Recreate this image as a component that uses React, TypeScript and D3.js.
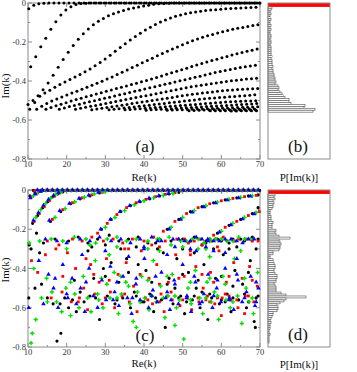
import React, { useEffect, useRef } from 'react';
import * as d3 from 'd3';

const W = 357;
const H = 372;

// Re(k) grid: spacing between neighbouring resonances of one family
const reGrid = [10.0, 11.3, 12.6, 13.9, 15.2, 16.5, 17.8, 19.1, 20.4, 21.7, 23.0, 24.3, 25.6, 26.9, 28.2, 29.5, 30.8, 32.1, 33.4, 34.7, 36.0, 37.3, 38.6, 39.9, 41.2, 42.5, 43.8, 45.1, 46.4, 47.7, 49.0, 50.3, 51.6, 52.9, 54.2, 55.5, 56.8, 58.1, 59.4, 60.7, 62.0, 63.3, 64.6, 65.9, 67.2, 68.5, 69.8];

// panel (a): each family starts at reGrid[famFrom] and is offset by famShift
const famFrom = [0, 0, 0, 0, 1, 3, 6, 9, 12, 16, 19, 23, 27, 32, 36, 40];
const famShift = [0.2, 0.7, 0.0, 0.45, 0.95, 0.75, 0.3, 0.6, 0.9, 0.15, 0.4, 0.65, 0.9, 0.05, 0.35, 0.6];
const famIm = [
  [-0.03, -0.012, -0.004, -0.001, 0, 0, 0, 0, 0, 0, 0, 0, 0, 0, 0, 0, 0, 0, 0, 0, 0, 0, 0, 0, 0, 0, 0, 0, 0, 0, 0, 0, 0, 0, 0, 0, 0, 0, 0, 0, 0, 0, 0, 0, 0, 0, 0],
  [-0.327, -0.275, -0.224, -0.181, -0.135, -0.096, -0.062, -0.036, -0.019, -0.008, -0.003, -0.001, 0, 0, 0, 0, 0, 0, 0, 0, 0, 0, 0, 0, 0, 0, 0, 0, 0, 0, 0, 0, 0, 0, 0, 0, 0, 0, 0, 0, 0, 0, 0, 0, 0, 0],
  [-0.52, -0.5, -0.475, -0.445, -0.41, -0.37, -0.33, -0.29, -0.252, -0.218, -0.186, -0.158, -0.133, -0.112, -0.094, -0.079, -0.066, -0.055, -0.046, -0.038, -0.031, -0.025, -0.02, -0.015, -0.011, -0.007, -0.004, -0.002, -0.001, 0, 0, 0, 0, 0, 0, 0, 0, 0, 0, 0, 0, 0, 0, 0, 0, 0, 0],
  [-0.545, -0.51, -0.478, -0.462, -0.447, -0.432, -0.418, -0.405, -0.392, -0.38, -0.367, -0.353, -0.338, -0.322, -0.305, -0.287, -0.268, -0.248, -0.228, -0.209, -0.19, -0.172, -0.155, -0.139, -0.124, -0.11, -0.098, -0.087, -0.077, -0.068, -0.061, -0.055, -0.05, -0.046, -0.042, -0.039, -0.036, -0.034, -0.032, -0.03, -0.028, -0.027, -0.025, -0.024, -0.023, -0.022],
  [-0.545, -0.53, -0.515, -0.503, -0.492, -0.482, -0.472, -0.462, -0.452, -0.442, -0.432, -0.422, -0.412, -0.401, -0.39, -0.379, -0.367, -0.355, -0.343, -0.331, -0.319, -0.307, -0.295, -0.283, -0.271, -0.259, -0.247, -0.236, -0.225, -0.214, -0.204, -0.194, -0.185, -0.176, -0.168, -0.161, -0.154, -0.147, -0.141, -0.135, -0.13, -0.125, -0.12, -0.115, -0.111],
  [-0.545, -0.536, -0.527, -0.519, -0.511, -0.503, -0.495, -0.488, -0.481, -0.474, -0.467, -0.46, -0.453, -0.446, -0.439, -0.432, -0.425, -0.418, -0.411, -0.404, -0.397, -0.39, -0.382, -0.374, -0.366, -0.358, -0.35, -0.342, -0.334, -0.326, -0.318, -0.31, -0.302, -0.295, -0.288, -0.281, -0.274, -0.267, -0.26, -0.254, -0.248, -0.242, -0.236],
  [-0.545, -0.538, -0.531, -0.525, -0.519, -0.513, -0.507, -0.501, -0.495, -0.489, -0.483, -0.477, -0.471, -0.465, -0.459, -0.453, -0.447, -0.441, -0.435, -0.429, -0.423, -0.417, -0.411, -0.405, -0.399, -0.393, -0.387, -0.381, -0.375, -0.369, -0.363, -0.357, -0.351, -0.346, -0.341, -0.336, -0.331, -0.327, -0.323, -0.319],
  [-0.545, -0.54, -0.535, -0.53, -0.525, -0.52, -0.515, -0.51, -0.505, -0.5, -0.495, -0.49, -0.485, -0.48, -0.475, -0.47, -0.465, -0.46, -0.455, -0.45, -0.445, -0.44, -0.435, -0.43, -0.426, -0.422, -0.418, -0.414, -0.41, -0.406, -0.402, -0.399, -0.396, -0.393, -0.39, -0.388, -0.386],
  [-0.548, -0.544, -0.54, -0.536, -0.532, -0.528, -0.524, -0.52, -0.516, -0.512, -0.508, -0.504, -0.5, -0.496, -0.492, -0.488, -0.484, -0.48, -0.476, -0.472, -0.468, -0.465, -0.462, -0.459, -0.456, -0.453, -0.45, -0.448, -0.446, -0.444, -0.442, -0.441, -0.44, -0.439],
  [-0.548, -0.545, -0.542, -0.539, -0.536, -0.533, -0.53, -0.527, -0.524, -0.521, -0.518, -0.515, -0.512, -0.509, -0.506, -0.503, -0.5, -0.497, -0.494, -0.491, -0.489, -0.487, -0.485, -0.483, -0.481, -0.479, -0.477, -0.475, -0.473, -0.471],
  [-0.548, -0.546, -0.544, -0.542, -0.54, -0.538, -0.536, -0.534, -0.532, -0.53, -0.528, -0.526, -0.524, -0.522, -0.52, -0.518, -0.516, -0.514, -0.512, -0.51, -0.508, -0.506, -0.505, -0.504, -0.503, -0.502, -0.501],
  [-0.55, -0.548, -0.546, -0.545, -0.543, -0.542, -0.54, -0.539, -0.537, -0.536, -0.534, -0.533, -0.531, -0.53, -0.528, -0.527, -0.525, -0.524, -0.522, -0.521, -0.519, -0.518, -0.516],
  [-0.55, -0.549, -0.548, -0.547, -0.546, -0.545, -0.544, -0.543, -0.542, -0.541, -0.54, -0.539, -0.538, -0.537, -0.536, -0.535, -0.534, -0.533, -0.532],
  [-0.552, -0.551, -0.55, -0.549, -0.549, -0.548, -0.548, -0.547, -0.546, -0.546, -0.545, -0.544, -0.544, -0.543],
  [-0.553, -0.553, -0.552, -0.552, -0.551, -0.551, -0.55, -0.55, -0.549, -0.549],
  [-0.554, -0.554, -0.553, -0.553, -0.553, -0.552],
];

// panel (c): rows of resonances stuck at Im(k) ~ 0, one per realisation
const topColor = ['black', 'red', 'green', 'blue'];
const topShift = [0.1, 0.45, 0.8, 1.1];
const topFrom = [1, 1, 2, 1];
const topLevel = [-0.002, -0.003, -0.002, 0];

// panel (c): remaining resonances [Re(k), Im(k)] of the four realisations
const cBlack = [
  [10.5, -0.03], [11.8, -0.015], [13.1, -0.005], [11.2, -0.17], [12.5, -0.13], [13.8, -0.09], [15.1, -0.06], [16.4, -0.035], [17.7, -0.02], [19, -0.01],
  [15.8, -0.16], [18.5, -0.11], [21, -0.07], [23.5, -0.045], [26, -0.03], [28.5, -0.015], [29, -0.2], [31.5, -0.15], [34, -0.11], [36.5, -0.08],
  [39, -0.06], [41.5, -0.045], [44, -0.03], [46.5, -0.02], [49, -0.012], [43, -0.27], [46, -0.2], [49, -0.15], [52, -0.11], [55, -0.085],
  [58, -0.065], [61, -0.05], [64, -0.04], [67, -0.03], [69.5, -0.025], [53, -0.32], [56, -0.27], [59, -0.22], [62, -0.18], [65, -0.15],
  [68, -0.12], [69.5, -0.09],
  [14, -0.27], [17, -0.25], [20.5, -0.26], [23, -0.24], [25.5, -0.27], [28, -0.25], [31, -0.23], [33.5, -0.26], [36, -0.25], [38.5, -0.24],
  [41, -0.27], [44, -0.25], [47, -0.26], [50, -0.25], [53, -0.24], [56, -0.26], [59, -0.25], [62, -0.27], [65, -0.25], [68, -0.24],
  [52, -0.26], [57, -0.25], [60, -0.26], [63, -0.25], [66, -0.26], [69.5, -0.25], [38, -0.29], [50, -0.3], [55, -0.28], [62, -0.3],
  [10.3, -0.28], [10.8, -0.3], [12.2, -0.22], [13, -0.32], [11.8, -0.5], [10.2, -0.55], [13.5, -0.48], [15, -0.55], [16.5, -0.58], [17.5, -0.77],
  [18.5, -0.73], [18.3, -0.58], [19.5, -0.55], [20.5, -0.6], [21.5, -0.56], [22.5, -0.62], [23.5, -0.52], [24.5, -0.57], [25.5, -0.31], [26.5, -0.29],
  [27.5, -0.55], [28.5, -0.66], [29.5, -0.4], [30.5, -0.54], [31.5, -0.37], [32.5, -0.58], [33.5, -0.47], [34.5, -0.55], [35.5, -0.35], [36.5, -0.6],
  [37.5, -0.52], [38.5, -0.38], [39.5, -0.57], [40.5, -0.41], [41.5, -0.53], [42.5, -0.62], [43.5, -0.3], [44.5, -0.56], [45.5, -0.7], [46.5, -0.45],
  [47.5, -0.58], [48.5, -0.35], [49.5, -0.54], [50.5, -0.63], [51.5, -0.42], [52.5, -0.56], [53.5, -0.5], [54.5, -0.6], [55.5, -0.38], [56.5, -0.66],
  [57.5, -0.55], [58.5, -0.45], [59.5, -0.58], [60.5, -0.33], [61.5, -0.53], [62.5, -0.62], [63.5, -0.41], [64.5, -0.56], [65.5, -0.48], [66.5, -0.6],
  [67.5, -0.36], [68.5, -0.67], [69.5, -0.54], [68.8, -0.7], [69, -0.3], [48, -0.5], [30, -0.28], [34, -0.3], [45, -0.32], [58, -0.3],
  [64, -0.29], [27, -0.45], [40, -0.57], [55, -0.52], [61, -0.57], [66, -0.53],
  [36, -0.42], [42, -0.47], [50, -0.43], [54, -0.46], [60, -0.44], [63, -0.49], [67, -0.42], [22, -0.46], [30, -0.44], [46, -0.48],
  [33, -0.56], [38, -0.54], [43, -0.55], [51, -0.57], [53, -0.54], [57, -0.53], [60, -0.56], [63, -0.55], [67, -0.57], [69, -0.55],
  [26, -0.54], [49, -0.55],
];
const cRed = [
  [10.8, -0.035], [12.1, -0.02], [13.4, -0.008], [11.6, -0.16], [12.9, -0.12], [14.2, -0.085], [15.5, -0.055], [16.8, -0.032], [18.1, -0.016], [16.3, -0.15],
  [19, -0.1], [21.5, -0.065], [24, -0.04], [26.5, -0.025], [29, -0.012], [28, -0.22], [30.5, -0.17], [33, -0.125], [35.5, -0.09], [38, -0.065],
  [40.5, -0.048], [43, -0.034], [45.5, -0.022], [48, -0.014], [42, -0.28], [45, -0.21], [48, -0.16], [51, -0.12], [54, -0.09], [57, -0.07],
  [60, -0.055], [63, -0.043], [66, -0.034], [69, -0.027], [52, -0.33], [55, -0.28], [58, -0.23], [61, -0.19], [64, -0.16], [67, -0.13],
  [69.8, -0.11],
  [15, -0.26], [18, -0.28], [21.5, -0.25], [24, -0.26], [26.5, -0.24], [29.5, -0.26], [32, -0.25], [34.5, -0.27], [37, -0.25], [40, -0.26],
  [42.5, -0.24], [45.5, -0.26], [48.5, -0.25], [51.5, -0.27], [54.5, -0.25], [57.5, -0.26], [60.5, -0.24], [63.5, -0.26], [66.5, -0.25], [69.5, -0.26],
  [50.5, -0.25], [53, -0.26], [58.5, -0.25], [61.5, -0.26], [64.5, -0.25], [68, -0.26], [36, -0.3], [44, -0.29], [52, -0.31], [59, -0.29],
  [10.9, -0.36], [12.5, -0.42], [14.5, -0.33], [16, -0.55], [17.2, -0.3], [18.8, -0.52], [20.2, -0.32], [21.2, -0.57], [22.3, -0.4], [23.3, -0.55],
  [24.4, -0.5], [25.4, -0.61], [26.2, -0.38], [27.3, -0.53], [28.4, -0.47], [29.2, -0.58], [30.3, -0.35], [31.3, -0.52], [32.4, -0.6], [33.3, -0.43],
  [34.3, -0.54], [35.4, -0.37], [36.2, -0.57], [37.3, -0.49], [38.2, -0.62], [39.3, -0.31], [40.4, -0.55], [41.3, -0.45], [42.2, -0.58], [43.3, -0.38],
  [44.4, -0.53], [45.2, -0.62], [46.3, -0.47], [47.3, -0.56], [48.2, -0.33], [49.3, -0.59], [50.4, -0.44], [51.2, -0.55], [52.3, -0.61], [53.4, -0.39],
  [54.2, -0.57], [55.3, -0.5], [56.4, -0.54], [57.2, -0.42], [58.3, -0.58], [59.4, -0.31], [60.2, -0.55], [61.3, -0.47], [62.4, -0.56], [63.2, -0.37],
  [64.3, -0.6], [65.4, -0.45], [66.2, -0.54], [67.3, -0.39], [68.4, -0.57], [69.3, -0.49], [56, -0.56], [59, -0.55], [62, -0.54], [47, -0.52],
  [35, -0.3], [25, -0.35], [60, -0.64], [66, -0.63],
  [31, -0.46], [39, -0.43], [44, -0.48], [49, -0.45], [55, -0.43], [58, -0.47], [62, -0.44], [68, -0.46], [19, -0.44], [27, -0.43],
  [30, -0.55], [35, -0.53], [41, -0.56], [46, -0.54], [50, -0.56], [54, -0.55], [57, -0.57], [61, -0.53], [64, -0.56], [67, -0.54],
  [23, -0.57], [44, -0.57],
];
const cGreen = [
  [11.4, -0.03], [12.7, -0.012], [12, -0.14], [13.3, -0.1], [14.6, -0.068], [15.9, -0.042], [17.2, -0.022], [18.5, -0.01], [17, -0.14], [19.6, -0.095],
  [22.1, -0.06], [24.6, -0.037], [27.1, -0.02], [29.6, -0.01], [30, -0.19], [32.5, -0.14], [35, -0.105], [37.5, -0.075], [40, -0.055], [42.5, -0.04],
  [45, -0.028], [47.5, -0.018], [44, -0.25], [47, -0.19], [50, -0.14], [53, -0.105], [56, -0.08], [59, -0.062], [62, -0.048], [65, -0.038],
  [68, -0.03], [54, -0.3], [57, -0.25], [60, -0.21], [63, -0.17], [66, -0.14], [69, -0.115],
  [13, -0.26], [16, -0.25], [19, -0.26], [22, -0.24], [25, -0.25], [27.5, -0.27], [30.5, -0.25], [33, -0.24], [35.5, -0.26], [38, -0.25],
  [41, -0.26], [43.5, -0.25], [46.5, -0.24], [49.5, -0.26], [52.5, -0.25], [55.5, -0.27], [58.5, -0.25], [61.5, -0.26], [64.5, -0.24], [67.5, -0.25],
  [51, -0.26], [54, -0.25], [57, -0.26], [60, -0.25], [63, -0.26], [66, -0.25], [33, -0.29], [41, -0.3], [47, -0.28], [56, -0.3],
  [10.3, -0.27], [11.5, -0.4], [12, -0.66], [11.1, -0.73], [10.8, -0.78], [13.5, -0.55], [14.8, -0.45], [16.2, -0.52], [17.4, -0.57], [18.7, -0.62],
  [19.8, -0.5], [21, -0.64], [22.1, -0.53], [23.2, -0.6], [24.3, -0.44], [25.4, -0.55], [26.3, -0.62], [27.4, -0.36], [28.3, -0.56], [29.4, -0.6],
  [30.4, -0.48], [31.2, -0.55], [32.3, -0.42], [33.4, -0.63], [34.2, -0.53], [35.3, -0.47], [36.4, -0.58], [37.2, -0.67], [38.3, -0.52], [39.4, -0.44],
  [40.2, -0.55], [41.3, -0.61], [42.4, -0.36], [43.2, -0.57], [44.3, -0.49], [45.4, -0.65], [46.2, -0.54], [47.3, -0.43], [48.4, -0.6], [49.2, -0.56],
  [50.3, -0.76], [51.4, -0.5], [52.2, -0.58], [53.3, -0.41], [54.4, -0.55], [55.2, -0.63], [56.3, -0.47], [57.4, -0.57], [58.2, -0.52], [59.3, -0.66],
  [60.4, -0.44], [61.2, -0.56], [62.3, -0.6], [63.4, -0.35], [64.2, -0.54], [65.3, -0.68], [66.4, -0.5], [67.2, -0.57], [68.3, -0.63], [69.4, -0.42],
  [20, -0.3], [26, -0.28], [31, -0.33], [44, -0.31], [50, -0.29], [57, -0.34], [65, -0.31], [48, -0.69], [38, -0.7],
  [29, -0.45], [34, -0.44], [41, -0.46], [46, -0.44], [52, -0.47], [57, -0.45], [61, -0.48], [66, -0.45], [21, -0.47], [36, -0.49],
  [28, -0.53], [33, -0.55], [39, -0.57], [45, -0.55], [48, -0.54], [52, -0.56], [56, -0.55], [59, -0.54], [63, -0.57], [68, -0.55],
  [15, -0.57], [42, -0.54],
];
const cBlue = [
  [10.6, -0.04], [11.9, -0.02], [13.2, -0.007], [11.4, -0.155], [12.7, -0.115], [14, -0.078], [15.3, -0.048], [16.6, -0.028], [17.9, -0.013], [15.5, -0.155],
  [18.2, -0.105], [20.7, -0.068], [23.2, -0.043], [25.7, -0.026], [28.2, -0.013], [28.8, -0.2], [31.3, -0.15], [33.8, -0.11], [36.3, -0.08], [38.8, -0.058],
  [41.3, -0.042], [43.8, -0.03], [46.3, -0.019], [43.5, -0.26], [46.5, -0.2], [49.5, -0.15], [52.5, -0.113], [55.5, -0.086], [58.5, -0.066], [61.5, -0.051],
  [64.5, -0.04], [67.5, -0.032], [53.5, -0.31], [56.5, -0.26], [59.5, -0.215], [62.5, -0.178], [65.5, -0.148], [68.5, -0.122],
  [14.5, -0.25], [17.5, -0.26], [20, -0.27], [23.5, -0.25], [26, -0.26], [28.5, -0.24], [31.5, -0.26], [34, -0.25], [36.5, -0.27], [39, -0.25],
  [42, -0.24], [44.5, -0.26], [47.5, -0.25], [50.5, -0.26], [53.5, -0.24], [56.5, -0.25], [59.5, -0.26], [62.5, -0.25], [65.5, -0.27], [68.5, -0.25],
  [49, -0.25], [52, -0.26], [55, -0.25], [58, -0.26], [61, -0.25], [64, -0.26], [67, -0.25], [40, -0.3], [48, -0.29], [58, -0.31],
  [10.2, -0.6], [12.8, -0.36], [14, -0.58], [15.3, -0.43], [16.6, -0.5], [17.8, -0.6], [19, -0.38], [20.3, -0.55], [21.4, -0.45], [22.5, -0.58],
  [23.6, -0.5], [24.7, -0.62], [25.8, -0.4], [26.9, -0.54], [28, -0.6], [29.1, -0.46], [30.2, -0.56], [31.3, -0.39], [32.4, -0.52], [33.5, -0.59],
  [34.6, -0.44], [35.7, -0.55], [36.8, -0.63], [37.9, -0.48], [39, -0.56], [40.1, -0.35], [41.2, -0.6], [42.3, -0.51], [43.4, -0.57], [44.5, -0.42],
  [45.6, -0.55], [46.7, -0.61], [47.8, -0.46], [48.9, -0.58], [50, -0.38], [51.1, -0.54], [52.2, -0.62], [53.3, -0.47], [54.4, -0.58], [55.5, -0.53],
  [56.6, -0.43], [57.7, -0.6], [58.8, -0.5], [59.9, -0.57], [61, -0.4], [62.1, -0.55], [63.2, -0.61], [64.3, -0.46], [65.4, -0.57], [66.5, -0.52],
  [67.6, -0.44], [68.7, -0.59], [69.6, -0.5], [30, -0.31], [40, -0.29], [52, -0.3], [61, -0.32], [24, -0.33], [36, -0.34], [46, -0.33],
  [56, -0.29], [64, -0.35],
  [33, -0.47], [38, -0.45], [43, -0.44], [48, -0.48], [53, -0.44], [59, -0.46], [64, -0.43], [69, -0.47], [25, -0.47], [17, -0.45],
  [32, -0.56], [37, -0.55], [42, -0.54], [47, -0.56], [51, -0.55], [55, -0.57], [58, -0.54], [62, -0.56], [66, -0.55], [69, -0.57],
  [20, -0.53], [46, -0.52],
];

// histograms P[Im(k)], bins of 0.01 starting at Im(k) = 0 and going down
const binSize = 0.01;
const histB = [
  400, 400, 4, 3, 2, 3, 2, 2, 3, 2, 2, 3, 2, 3, 2, 2, 3, 3, 2, 3, 3, 2, 3, 3, 3, 3, 3, 4, 3, 4,
  4, 4, 5, 4, 5, 5, 6, 6, 7, 7, 8, 7, 10, 11, 10, 12, 14, 15, 17, 21, 21, 23, 37, 36, 47, 45,
  0, 0, 0, 0, 0, 0, 0, 0, 0, 0, 0, 0, 0, 0, 0, 0, 0, 0, 0, 0, 0, 0, 0, 0,
];
const histD = [
  400, 400, 7, 6, 7, 5, 6, 5, 5, 4, 2, 2, 2, 3, 3, 3, 5, 4, 4, 4, 8, 7, 8, 11, 22, 11, 12, 13, 12, 12,
  11, 5, 5, 2, 2, 5, 5, 6, 7, 7, 6, 6, 7, 9, 9, 8, 8, 6, 7, 8, 8, 8, 13, 18, 38, 18, 16, 12, 9, 10,
  10, 9, 5, 5, 4, 3, 2, 3, 2, 2, 2, 1, 1, 2, 1, 1, 1, 1, 0, 0,
];

const xTicks = [10, 20, 30, 40, 50, 60, 70];
const yTicks = [0, -0.2, -0.4, -0.6, -0.8];

const FRAME = '#8c8c8c';
const SERIF = 'Liberation Serif, Times New Roman, serif';

export default function App() {
  const ref = useRef<SVGSVGElement>(null);

  useEffect(() => {
    const svg = d3.select(ref.current);
    svg.selectAll('*').remove();

    const x = d3.scaleLinear().domain([10, 70]).range([28, 260]);
    const yA = d3.scaleLinear().domain([-0.8, 0]).range([159, 3]);
    const yC = d3.scaleLinear().domain([-0.8, 0]).range([347, 190]);
    const p = d3.scaleLinear().domain([0, 62]).range([268, 330]);

    const drawAxes = (y: d3.ScaleLinear<number, number>) => {
      const g = svg.append('g');
      const [x0, x1] = x.range();
      const [y1, y0] = y.range();
      g.append('rect').attr('x', x0).attr('y', y0).attr('width', x1 - x0).attr('height', y1 - y0)
        .attr('fill', 'none').attr('stroke', FRAME).attr('stroke-width', 1);
      d3.range(10, 71, 5).forEach(v => {
        const len = v % 10 === 0 ? 4 : 2;
        g.append('line').attr('x1', x(v)).attr('x2', x(v)).attr('y1', y1).attr('y2', y1 - len).attr('stroke', FRAME);
        g.append('line').attr('x1', x(v)).attr('x2', x(v)).attr('y1', y0).attr('y2', y0 + len).attr('stroke', FRAME);
      });
      y.ticks(8).forEach((v, i) => {
        const len = i % 2 === 0 ? 4 : 2;
        g.append('line').attr('x1', x0).attr('x2', x0 + len).attr('y1', y(v)).attr('y2', y(v)).attr('stroke', FRAME);
        g.append('line').attr('x1', x1).attr('x2', x1 - len).attr('y1', y(v)).attr('y2', y(v)).attr('stroke', FRAME);
      });
      g.selectAll('.xl').data(xTicks).enter().append('text')
        .attr('x', d => x(d)).attr('y', y1 + 8).attr('text-anchor', 'middle')
        .style('font-family', SERIF).attr('font-size', 8.5).attr('fill', '#333')
        .text(d => String(d));
      g.selectAll('.yl').data(yTicks).enter().append('text')
        .attr('x', x0 - 2).attr('y', d => y(d) + 3).attr('text-anchor', 'end')
        .style('font-family', SERIF).attr('font-size', 8.5).attr('fill', '#333')
        .text(d => (d === 0 ? '0' : d.toFixed(1)));
    };

    const drawHist = (y: d3.ScaleLinear<number, number>, data: number[]) => {
      const g = svg.append('g');
      const [pMin, pMax] = p.domain();
      data.forEach((v, i) => {
        if (v <= 0) return;
        const top = y(-binSize * i);
        const bot = y(-binSize * (i + 1));
        const big = v > pMax;
        g.append('rect')
          .attr('x', p(pMin)).attr('y', top)
          .attr('width', p(Math.min(v, pMax)) - p(pMin)).attr('height', bot - top)
          .attr('fill', big ? '#ff0000' : '#fff')
          .attr('stroke', big ? 'none' : '#666').attr('stroke-width', 0.7);
      });
      const [y1, y0] = y.range();
      g.append('rect').attr('x', p.range()[0]).attr('y', y0)
        .attr('width', p.range()[1] - p.range()[0]).attr('height', y1 - y0)
        .attr('fill', 'none').attr('stroke', FRAME).attr('stroke-width', 1);
    };

    const label = (txt: string, lx: number, ly: number, size: number, rotate = false) => {
      const t = svg.append('text').style('font-family', SERIF).attr('font-size', size)
        .attr('fill', '#111').attr('text-anchor', 'middle').text(txt);
      if (rotate) t.attr('transform', `translate(${lx},${ly}) rotate(-90)`);
      else t.attr('x', lx).attr('y', ly);
    };

    // panel (a)
    drawAxes(yA);
    const pointsA: [number, number][] = [];
    famIm.forEach((ims, f) => {
      ims.forEach((im, i) => {
        const re = reGrid[famFrom[f] + i] + famShift[f];
        if (re <= 70) pointsA.push([re, im]);
      });
    });
    svg.append('g').selectAll('circle').data(pointsA).enter().append('circle')
      .attr('cx', d => x(d[0])).attr('cy', d => yA(d[1])).attr('r', 1.5).attr('fill', '#000');

    // panel (b)
    drawHist(yA, histB);

    // panel (c)
    drawAxes(yC);
    const series: Record<string, [number, number][]> = {
      black: [...cBlack] as [number, number][],
      red: [...cRed] as [number, number][],
      green: [...cGreen] as [number, number][],
      blue: [...cBlue] as [number, number][],
    };
    topColor.forEach((c, r) => {
      reGrid.forEach((re, i) => {
        if (i < topFrom[r]) return;
        const v = re + topShift[r];
        if (v <= 70) series[c].push([v, topLevel[r]]);
      });
    });
    const colors: Record<string, string> = { black: '#000', red: '#ff0000', green: '#00e000', blue: '#0000ff' };
    const shapes: Record<string, d3.SymbolType> = {
      black: d3.symbolCircle, red: d3.symbolSquare, green: d3.symbolCross, blue: d3.symbolTriangle,
    };
    const sizes: Record<string, number> = { black: 8, red: 8, green: 10, blue: 9 };
    ['black', 'red', 'green', 'blue'].forEach(c => {
      const sym = d3.symbol().type(shapes[c]).size(sizes[c]);
      svg.append('g').selectAll('path').data(series[c]).enter().append('path')
        .attr('d', sym)
        .attr('transform', d => `translate(${x(d[0])},${yC(d[1])})`)
        .attr('fill', colors[c]);
    });

    // panel (d)
    drawHist(yC, histD);

    // labels
    label('Re(k)', 144, 181, 11);
    label('Re(k)', 144, 367, 11);
    label('Im(k)', 9, 86, 11, true);
    label('Im(k)', 9, 270, 11, true);
    label('P[Im(k)]', 299, 181, 11);
    label('P[Im(k)]', 299, 368, 11);
    label('(a)', 145, 152, 17);
    label('(b)', 298, 152, 17);
    label('(c)', 145, 341, 17);
    label('(d)', 298, 340, 17);
  }, []);

  return (
    <svg ref={ref} width={W} height={H}
      style={{ position: 'absolute', left: 0, top: 0, background: '#fff' }} />
  );
}
